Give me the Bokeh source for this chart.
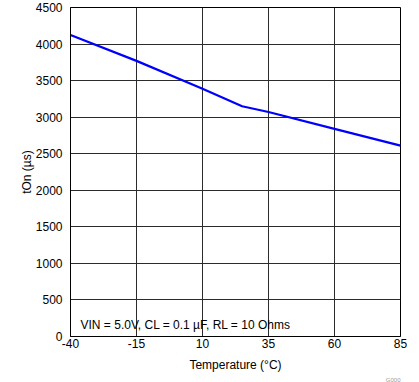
from bokeh.plotting import figure
from bokeh.models import Label, FixedTicker, Title
from bokeh.embed import file_html
from bokeh.resources import INLINE

# Data
temps = [-40, -15, 10, 25, 35, 60, 85]
ton_us = [4125, 3770, 3390, 3150, 3070, 2840, 2610]
x_ticks = [-40, -15, 10, 35, 60, 85]
x_tick_labels = ["-40", "-15", "10", "35", "60", "85"]
y_ticks = [0, 500, 1000, 1500, 2000, 2500, 3000, 3500, 4000, 4500]
note_text = "VIN = 5.0V, CL = 0.1 µF, RL = 10 Ohms"
code_text = "G000"

FONT = "Liberation Sans"

p = figure(
    frame_width=330, frame_height=329,
    min_border_left=70, min_border_right=19,
    min_border_top=7, min_border_bottom=46,
    x_range=(-40, 85), y_range=(0, 4500),
    output_backend="svg", toolbar_location=None,
)
p.background_fill_color = "white"
p.border_fill_color = "white"
p.outline_line_color = "black"
p.outline_line_width = 1

p.line(temps, ton_us, line_color="#0000FF", line_width=2.2)

for ax in (p.xaxis[0], p.yaxis[0]):
    ax.major_tick_out = 0
    ax.major_tick_in = 0
    ax.minor_tick_out = 0
    ax.minor_tick_in = 0
    ax.axis_line_color = "black"
    ax.major_label_text_font = FONT
    ax.major_label_text_font_size = "12px"
    ax.major_label_text_color = "black"
    ax.axis_label_text_font = FONT
    ax.axis_label_text_font_size = "12px"
    ax.axis_label_text_font_style = "normal"
    ax.axis_label_text_color = "black"

p.xaxis.ticker = FixedTicker(ticks=x_ticks)
p.xaxis.major_label_overrides = dict(zip(x_ticks, x_tick_labels))
p.yaxis.ticker = FixedTicker(ticks=y_ticks)
p.xaxis.axis_label = "Temperature (°C)"
p.yaxis.axis_label = "tOn (µs)"
p.xaxis.major_label_standoff = 2
p.yaxis.major_label_standoff = 8
p.xaxis.axis_label_standoff = 7
p.yaxis.axis_label_standoff = -1

p.xgrid.ticker = FixedTicker(ticks=x_ticks)
p.ygrid.ticker = FixedTicker(ticks=y_ticks)
for g in (p.xgrid[0], p.ygrid[0]):
    g.grid_line_color = "#2b2b2b"
    g.grid_line_width = 1

p.add_layout(Label(x=-36.2, y=160, text=note_text, text_font=FONT,
                   text_font_size="12px", text_color="black",
                   text_baseline="alphabetic"))
p.add_layout(Title(text=code_text, align="right", text_font=FONT,
                   text_font_size="6px", text_font_style="normal",
                   text_color="#999999", standoff=0, offset=0), "below")

open("out.html", "w").write(file_html(p, INLINE))
